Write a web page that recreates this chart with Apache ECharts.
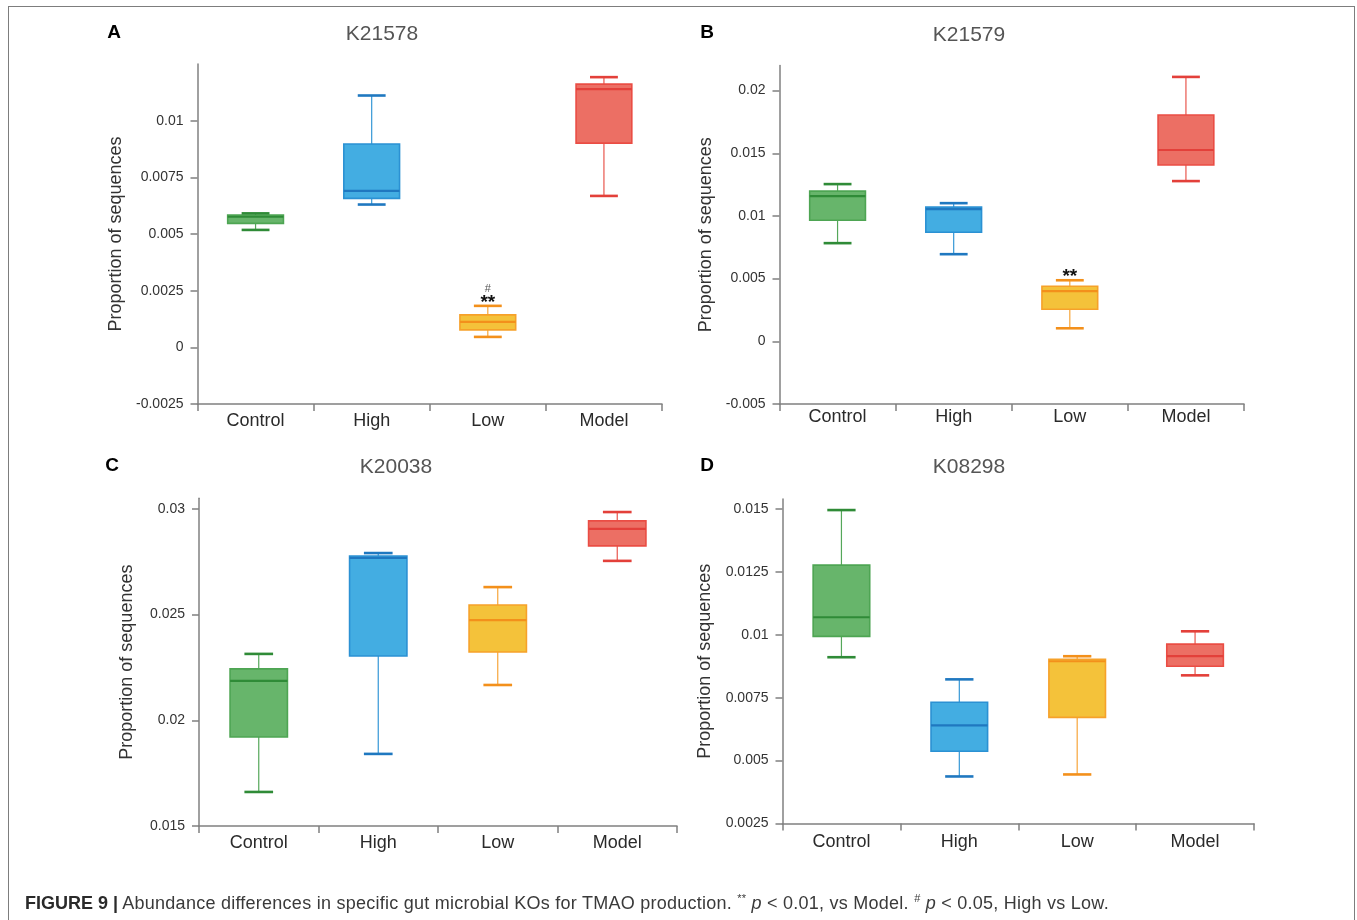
<!DOCTYPE html>
<html>
<head>
<meta charset="utf-8">
<title>Figure 9</title>
<script src="https://cdn.jsdelivr.net/npm/echarts@6.0.0/dist/echarts.min.js"></script>
<style>
  html, body { margin: 0; padding: 0; width: 1357px; height: 920px; overflow: hidden; background: #fff; }
  #frame { position: absolute; left: 8px; top: 6px; width: 1347px; height: 980px; border: 1.5px solid #7d7d7d; box-sizing: border-box; }
  #chart { position: absolute; left: 0; top: 0; width: 1357px; height: 920px; }
  #caption { position: absolute; left: 25px; top: 893px; font-family: "Liberation Sans", Arial, sans-serif; font-size: 18px; letter-spacing: 0.25px; line-height: 20px; color: #3a3a3a; white-space: nowrap; }
  #caption b { color: #2a2a2a; letter-spacing: 0; }
  #caption sup { font-size: 11px; line-height: 0; }
</style>
</head>
<body>
<div id="frame"></div>
<div id="chart"></div>
<div id="caption"><b>FIGURE 9 |</b> Abundance differences in specific gut microbial KOs for TMAO production. <sup>**</sup> <i>p</i> &lt; 0.01, vs Model. <sup>#</sup> <i>p</i> &lt; 0.05, High vs Low.</div>
<script>
// Groups shown on every panel
const categories = ['Control', 'High', 'Low', 'Model'];

// Box statistics per group: [min, Q1, median, Q3, max]
const k21578 = [
  [0.00518, 0.00547, 0.00576, 0.00584, 0.00591],
  [0.00630, 0.00657, 0.00690, 0.00897, 0.01111],
  [0.00046, 0.00077, 0.00112, 0.00143, 0.00183],
  [0.00668, 0.00901, 0.01139, 0.01161, 0.01192]
];
const k21579 = [
  [0.00783, 0.00966, 0.01158, 0.01198, 0.01254],
  [0.00695, 0.00870, 0.01054, 0.01070, 0.01102],
  [0.00104, 0.00256, 0.00400, 0.00439, 0.00487],
  [0.01278, 0.01406, 0.01526, 0.01805, 0.02109]
];
const k20038 = [
  [0.01661, 0.01921, 0.02186, 0.02243, 0.02314],
  [0.01841, 0.02304, 0.02768, 0.02777, 0.02791],
  [0.02167, 0.02323, 0.02474, 0.02545, 0.02630],
  [0.02754, 0.02825, 0.02905, 0.02943, 0.02985]
];
const k08298 = [
  [0.00911, 0.00994, 0.01070, 0.01277, 0.01496],
  [0.00437, 0.00537, 0.00640, 0.00732, 0.00823],
  [0.00445, 0.00672, 0.00895, 0.00903, 0.00915],
  [0.00839, 0.00875, 0.00915, 0.00963, 0.01014]
];

// Y tick labels per panel
const ticksA = [-0.0025, 0, 0.0025, 0.005, 0.0075, 0.01];
const ticksB = [-0.005, 0, 0.005, 0.01, 0.015, 0.02];
const ticksC = [0.015, 0.02, 0.025, 0.03];
const ticksD = [0.0025, 0.005, 0.0075, 0.01, 0.0125, 0.015];

// Significance marks above each group
const starsA = ['', '', '**', ''];
const hashA  = ['', '', '#', ''];
const starsB = ['', '', '**', ''];
const none   = ['', '', '', ''];

const panelTitles = ['K21578', 'K21579', 'K20038', 'K08298'];
const panelLetters = ['A', 'B', 'C', 'D'];

// Group colours: fill, outline, median/caps, whisker stem
const palette = [
  { fill: '#67b56b', edge: '#4ea553', dark: '#2f8b37', stem: '#55a75a' },
  { fill: '#43ade2', edge: '#2b91d3', dark: '#1f78c0', stem: '#3597d6' },
  { fill: '#f4c23a', edge: '#f6a12a', dark: '#f3901b', stem: '#f7a53a' },
  { fill: '#ec6f64', edge: '#ea4d44', dark: '#e3403a', stem: '#e9564d' }
];

const FONT = '"Liberation Sans", Arial, sans-serif';
const AXIS_COLOR = '#808080';

const panels = [
  { data: k21578, ticks: ticksA, min: -0.0025, max: 0.0125, stars: starsA, hash: hashA,
    grid: { left: 197.5, top: 64, width: 464.5, height: 340 }, nameGap: 72, labelMargin: 8,
    title: [382, 33], letter: [114, 33] },
  { data: k21579, ticks: ticksB, min: -0.005, max: 0.022, stars: starsB, hash: none,
    grid: { left: 779.5, top: 65.5, width: 464.5, height: 338.5 }, nameGap: 64, labelMargin: 4,
    title: [969, 34], letter: [707, 33] },
  { data: k20038, ticks: ticksC, min: 0.015, max: 0.0305, stars: none, hash: none,
    grid: { left: 199, top: 498.3, width: 478, height: 327.7 }, nameGap: 63, labelMargin: 8,
    title: [396, 466], letter: [112, 466] },
  { data: k08298, ticks: ticksD, min: 0.0025, max: 0.0154, stars: none, hash: none,
    grid: { left: 782.5, top: 499, width: 471.5, height: 324.5 }, nameGap: 68, labelMargin: 10,
    title: [969, 466], letter: [707, 466] }
];

function fmtTick(v) { return String(+(+v).toFixed(6)); }

function makeRenderer(panel) {
  return function (params, api) {
    const idx = api.value(0);
    const c = palette[idx];
    const bw = api.size([1, 0])[0];
    const cx = api.coord([idx, 0])[0];
    const yAt = k => api.coord([idx, api.value(k)])[1];
    const yMin = yAt(1), yQ1 = yAt(2), yMed = yAt(3), yQ3 = yAt(4), yMax = yAt(5);
    const half = bw * 0.24, capHalf = bw * 0.12;
    const children = [
      { type: 'line', shape: { x1: cx, y1: yQ3, x2: cx, y2: yMax }, style: { stroke: c.stem, lineWidth: 1.2 } },
      { type: 'line', shape: { x1: cx, y1: yQ1, x2: cx, y2: yMin }, style: { stroke: c.stem, lineWidth: 1.2 } },
      { type: 'rect', shape: { x: cx - half, y: yQ3, width: half * 2, height: yQ1 - yQ3 },
        style: { fill: c.fill, stroke: c.edge, lineWidth: 1.6 } },
      { type: 'line', shape: { x1: cx - half, y1: yMed, x2: cx + half, y2: yMed }, style: { stroke: c.dark, lineWidth: 2.2 } },
      { type: 'line', shape: { x1: cx - capHalf, y1: yMax, x2: cx + capHalf, y2: yMax }, style: { stroke: c.dark, lineWidth: 2.6 } },
      { type: 'line', shape: { x1: cx - capHalf, y1: yMin, x2: cx + capHalf, y2: yMin }, style: { stroke: c.dark, lineWidth: 2.6 } }
    ];
    const star = panel.stars[params.dataIndex];
    if (star) {
      children.push({ type: 'text', x: cx, y: yMax - 3,
        style: { text: star, fill: '#111', font: 'bold 19px ' + FONT, align: 'center', verticalAlign: 'middle' } });
    }
    const hash = panel.hash[params.dataIndex];
    if (hash) {
      children.push({ type: 'text', x: cx, y: yMax - 17,
        style: { text: hash, fill: '#555', font: '11px ' + FONT, align: 'center', verticalAlign: 'middle' } });
    }
    return { type: 'group', children: children };
  };
}

const option = {
  animation: false,
  backgroundColor: 'transparent',
  title: panels.map((p, i) => ({
    text: panelTitles[i], left: p.title[0], top: p.title[1] - 9, textAlign: 'center', padding: 0,
    textStyle: { fontFamily: FONT, fontSize: 21, fontWeight: 'normal', color: '#555' }
  })),
  graphic: panels.map((p, i) => ({
    type: 'text', x: p.letter[0], y: p.letter[1],
    style: { text: panelLetters[i], font: 'bold 19px ' + FONT, fill: '#000', align: 'center', verticalAlign: 'middle' }
  })),
  grid: panels.map(p => Object.assign({}, p.grid)),
  xAxis: panels.map((p, i) => ({
    type: 'category', gridIndex: i, data: categories, boundaryGap: true,
    axisLine: { onZero: false, lineStyle: { color: AXIS_COLOR, width: 1.5 } },
    axisTick: { show: true, length: 7, lineStyle: { color: AXIS_COLOR, width: 1.5 } },
    axisLabel: { fontFamily: FONT, fontSize: 18, color: '#2a2a2a', margin: p.labelMargin },
    splitLine: { show: false }
  })),
  yAxis: panels.map((p, i) => ({
    type: 'value', gridIndex: i, min: p.min, max: p.max,
    name: 'Proportion of sequences', nameLocation: 'middle', nameGap: p.nameGap,
    nameTextStyle: { fontFamily: FONT, fontSize: 18, color: '#333' },
    axisLine: { show: true, lineStyle: { color: AXIS_COLOR, width: 1.5 } },
    axisTick: { show: true, length: 7, customValues: p.ticks, lineStyle: { color: AXIS_COLOR, width: 1.5 } },
    axisLabel: { customValues: p.ticks, formatter: fmtTick, fontFamily: FONT, fontSize: 14, color: '#333', margin: 14 },
    splitLine: { show: false }
  })),
  series: panels.map((p, i) => ({
    type: 'custom', xAxisIndex: i, yAxisIndex: i,
    renderItem: makeRenderer(p),
    encode: { x: 0, y: [1, 2, 3, 4, 5] },
    data: p.data.map((d, k) => [k].concat(d))
  }))
};

const chart = echarts.init(document.getElementById('chart'), null, { renderer: 'canvas' });
chart.setOption(option);
</script>
</body>
</html>
